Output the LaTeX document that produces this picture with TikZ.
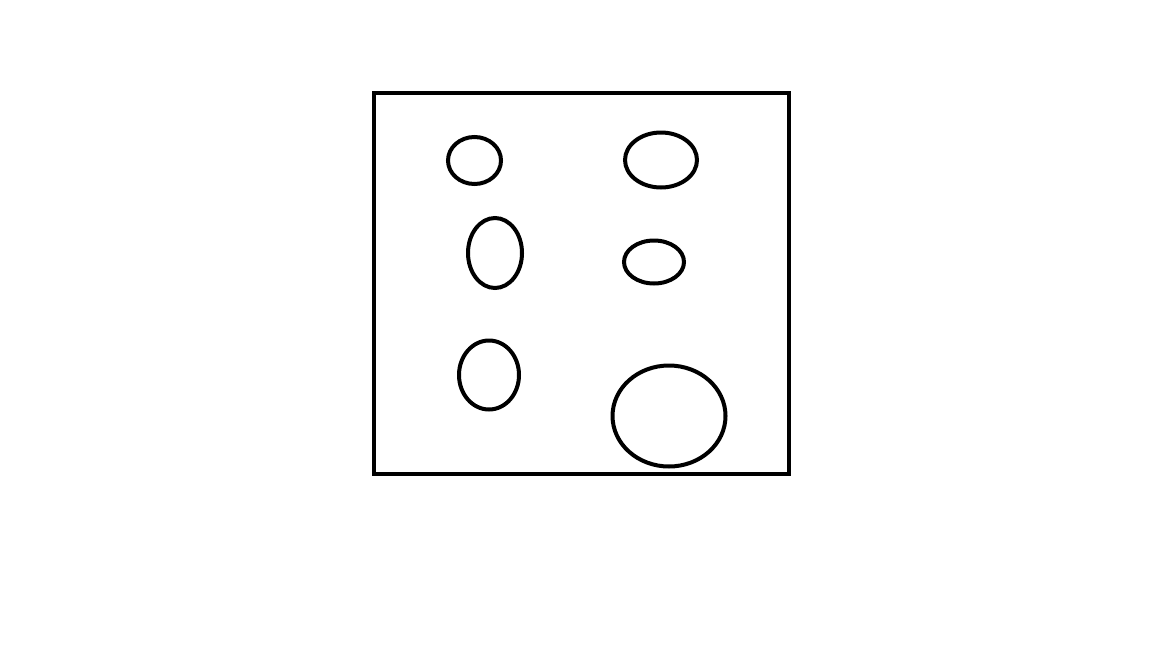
\documentclass[tikz,border=0pt]{standalone}
\usetikzlibrary{shapes.geometric}
\begin{document}
\begin{tikzpicture}[
  blob/.style={draw, ellipse, line width=0.08cm, inner sep=0pt},
  frame/.style={draw, line width=0.08cm}
]
\useasboundingbox (0,0) rectangle (23.04,-12.96);
\draw[frame] (7.48,-1.86) rectangle (15.78,-9.48);
\node[blob, minimum width=1.06cm, minimum height=0.94cm] (e1) at (9.49,-3.21) {};
\node[blob, minimum width=1.44cm, minimum height=1.10cm] (e2) at (13.22,-3.20) {};
\node[blob, minimum width=1.08cm, minimum height=1.40cm] (e3) at (9.90,-5.06) {};
\node[blob, minimum width=1.20cm, minimum height=0.86cm] (e4) at (13.08,-5.24) {};
\node[blob, minimum width=1.20cm, minimum height=1.38cm] (e5) at (9.78,-7.50) {};
\node[blob, minimum width=2.26cm, minimum height=2.02cm] (e6) at (13.38,-8.32) {};
\end{tikzpicture}
\end{document}
